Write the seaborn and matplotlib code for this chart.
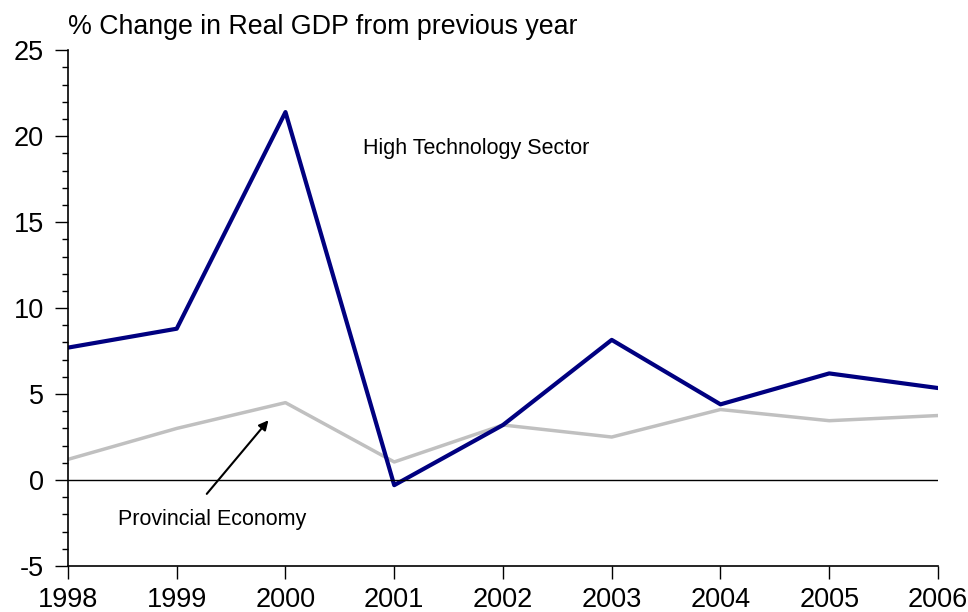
import pandas as pd
import matplotlib
matplotlib.use('Agg')
import matplotlib.pyplot as plt
import seaborn as sns
from matplotlib.ticker import MultipleLocator

years = [1998, 1999, 2000, 2001, 2002, 2003, 2004, 2005, 2006]
high_tech = [7.7, 8.8, 21.4, -0.3, 3.2, 8.15, 4.4, 6.2, 5.35]
provincial = [1.2, 3.0, 4.5, 1.05, 3.2, 2.5, 4.1, 3.45, 3.75]

sns.set_style('ticks')
plt.rcParams['font.family'] = ['Liberation Sans', 'DejaVu Sans']
plt.rcParams['axes.unicode_minus'] = False
plt.rcParams['text.color'] = 'black'
plt.rcParams['xtick.color'] = 'black'
plt.rcParams['ytick.color'] = 'black'

df = pd.DataFrame({'year': years, 'High Technology Sector': high_tech,
                   'Provincial Economy': provincial})

fig = plt.figure(figsize=(9.68, 6.12), dpi=100)
ax = fig.add_axes([0.0702, 0.0752, 0.8988, 0.8428])

sns.lineplot(data=df, x='year', y='Provincial Economy', color='#c0c0c0', lw=2.5, ax=ax)
sns.lineplot(data=df, x='year', y='High Technology Sector', color='#000080', lw=3, ax=ax)
ax.axhline(0, color='black', lw=1)

ax.set_xlim(1998, 2006)
ax.set_ylim(-5, 25)
ax.set_xticks(years)
ax.set_xticklabels([str(y) for y in years])
ax.yaxis.set_major_locator(MultipleLocator(5))
ax.yaxis.set_minor_locator(MultipleLocator(1))
ax.tick_params(axis='both', which='major', length=9.4, width=1, labelsize=19.5,
               colors='black')
ax.tick_params(axis='y', which='major', pad=8)
ax.tick_params(axis='x', which='major', pad=6)
ax.tick_params(axis='y', which='minor', length=4.3, width=1, color='black')
ax.set_xlabel('')
ax.set_ylabel('')
sns.despine(ax=ax)
for s in ['left', 'bottom']:
    ax.spines[s].set_color('black')
    ax.spines[s].set_linewidth(1.2)

ax.text(0, 1.02, '% Change in Real GDP from previous year', transform=ax.transAxes,
        ha='left', va='bottom', fontsize=19.3)
ax.text(2001.75, 19.3, 'High Technology Sector', ha='center', va='center', fontsize=15.5)
ax.text(1999.33, -2.3, 'Provincial Economy', ha='center', va='center', fontsize=15.5)
ax.annotate('', xy=(1999.86, 3.6), xytext=(1999.26, -0.93),
            arrowprops=dict(arrowstyle='-|>', color='black', lw=1.5, mutation_scale=14))

fig.savefig('out.png', dpi=100)
